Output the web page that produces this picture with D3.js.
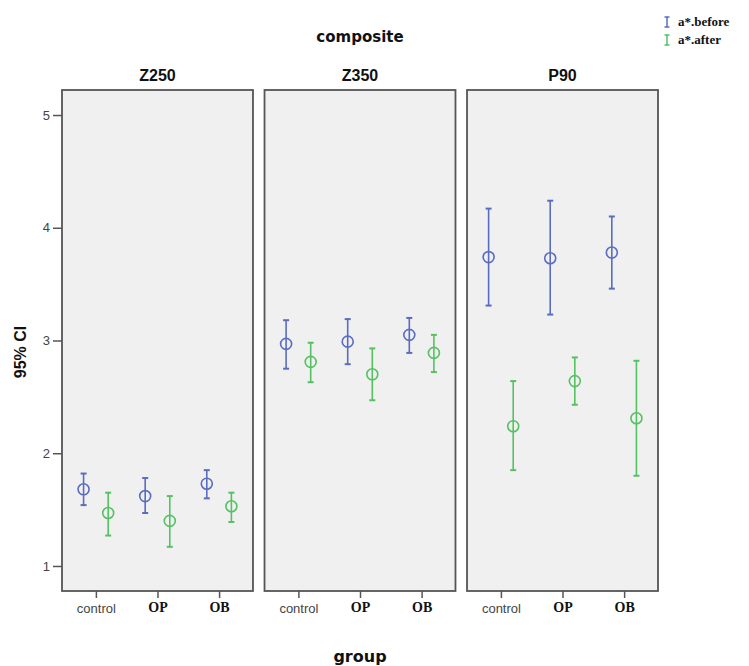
<!DOCTYPE html>
<html><head><meta charset="utf-8">
<script src="https://cdn.jsdelivr.net/npm/d3@7"></script>
<style>body{margin:0;background:#fff}svg{display:block}</style>
</head><body>
<svg id="c" width="749" height="666"></svg>
<script>
const facets = ["Z250", "Z350", "P90"];
const groups = ["control", "OP", "OB"];
const series = ["a*.before", "a*.after"];
const yTicks = [1, 2, 3, 4, 5];
// mean, lower, upper per facet, per group
const beforeMean  = [[1.68, 1.62, 1.73], [2.97, 2.99, 3.05], [3.74, 3.73, 3.78]];
const beforeLower = [[1.54, 1.47, 1.60], [2.75, 2.79, 2.89], [3.31, 3.23, 3.46]];
const beforeUpper = [[1.82, 1.78, 1.85], [3.18, 3.19, 3.20], [4.17, 4.24, 4.10]];
const afterMean   = [[1.47, 1.40, 1.53], [2.81, 2.70, 2.89], [2.24, 2.64, 2.31]];
const afterLower  = [[1.27, 1.17, 1.39], [2.63, 2.47, 2.72], [1.85, 2.43, 1.80]];
const afterUpper  = [[1.65, 1.62, 1.65], [2.98, 2.93, 3.05], [2.64, 2.85, 2.82]];

const colors = {"a*.before": "#5a6cc0", "a*.after": "#55c163"};
const rows = [];
facets.forEach((f, i) => groups.forEach((g, j) => {
  rows.push({facet: f, group: g, series: "a*.before", m: beforeMean[i][j], lo: beforeLower[i][j], hi: beforeUpper[i][j]});
  rows.push({facet: f, group: g, series: "a*.after", m: afterMean[i][j], lo: afterLower[i][j], hi: afterUpper[i][j]});
}));

const svg = d3.select("#c");
const plotTop = 90, plotBottom = 591;
const y = d3.scaleLinear().domain([0.778, 5.222]).range([plotBottom, plotTop]);
const fx = d3.scaleBand().domain(facets).range([62, 658]).paddingInner(0.057);
const gx = d3.scalePoint().domain(groups).range([0, fx.bandwidth()]).padding(0.55);
const sx = d3.scalePoint().domain(series).range([-12.3, 12.3]);

// titles
svg.append("text").attr("x", 360).attr("y", 42).attr("text-anchor", "middle")
  .attr("font-family", "DejaVu Sans, Verdana, sans-serif").attr("font-weight", "bold").attr("font-size", 15)
  .attr("fill", "#111").text("composite");
svg.append("text").attr("x", 360).attr("y", 662).attr("text-anchor", "middle")
  .attr("font-family", "DejaVu Sans, Verdana, sans-serif").attr("font-weight", "bold").attr("font-size", 16)
  .attr("fill", "#111").text("group");
svg.append("text").attr("transform", "translate(26,352) rotate(-90)").attr("text-anchor", "middle")
  .attr("font-family", "Liberation Sans, Arial, sans-serif").attr("font-weight", "bold").attr("font-size", 16)
  .attr("fill", "#111").text("95% CI");

// y axis
const yAxis = d3.axisLeft(y).tickValues(yTicks).tickSize(9).tickPadding(3).tickFormat(d3.format("d"));
const ya = svg.append("g").attr("transform", "translate(62,0)").call(yAxis);
ya.select(".domain").remove();
ya.selectAll(".tick line").attr("stroke", "#555").attr("stroke-width", 1.5);
ya.selectAll(".tick text").attr("font-family", "Liberation Sans, Arial, sans-serif").attr("font-size", 13).attr("fill", "#444");

facets.forEach(f => {
  const g = svg.append("g").attr("transform", `translate(${fx(f)},0)`);
  g.append("rect").attr("x", 0).attr("y", plotTop).attr("width", fx.bandwidth()).attr("height", plotBottom - plotTop)
    .attr("fill", "#f0f0f0").attr("stroke", "#555").attr("stroke-width", 1.8);
  g.append("text").attr("x", fx.bandwidth() / 2).attr("y", 81).attr("text-anchor", "middle")
    .attr("font-family", "Liberation Sans, Arial, sans-serif").attr("font-weight", "bold").attr("font-size", 16)
    .attr("fill", "#111").text(f);
  const xAxis = d3.axisBottom(gx).tickSize(7).tickPadding(6);
  const xa = g.append("g").attr("transform", `translate(0,${plotBottom})`).call(xAxis);
  xa.select(".domain").remove();
  xa.selectAll(".tick line").attr("stroke", "#555").attr("stroke-width", 1.5);
  xa.selectAll(".tick text").each(function(d) {
    const t = d3.select(this);
    if (d === "control") {
      t.attr("font-family", "Liberation Sans, Arial, sans-serif").attr("font-size", 13).attr("fill", "#444");
    } else {
      t.attr("font-family", "Liberation Serif, Times New Roman, serif").attr("font-weight", "bold").attr("font-size", 14).attr("fill", "#111").attr("dy", "0.55em");
    }
  });

  const pts = g.selectAll(".pt").data(rows.filter(r => r.facet === f)).join("g")
    .attr("transform", r => `translate(${gx(r.group) + sx(r.series)},0)`)
    .attr("stroke", r => colors[r.series]).attr("stroke-width", 1.6).attr("fill", "none");
  pts.append("line").attr("x1", 0).attr("x2", 0).attr("y1", r => y(r.lo)).attr("y2", r => y(r.hi));
  pts.append("line").attr("x1", -3).attr("x2", 3).attr("y1", r => y(r.lo)).attr("y2", r => y(r.lo)).attr("stroke-width", 2);
  pts.append("line").attr("x1", -3).attr("x2", 3).attr("y1", r => y(r.hi)).attr("y2", r => y(r.hi)).attr("stroke-width", 2);
  pts.append("circle").attr("cx", 0).attr("cy", r => y(r.m)).attr("r", 5.5);
});

// legend
const lg = svg.append("g");
series.forEach((s, i) => {
  const yy = 22 + i * 18;
  const c = colors[s];
  lg.append("line").attr("x1", 667).attr("x2", 667).attr("y1", yy - 5).attr("y2", yy + 5).attr("stroke", c).attr("stroke-width", 1.5);
  lg.append("line").attr("x1", 664.5).attr("x2", 669.5).attr("y1", yy - 5).attr("y2", yy - 5).attr("stroke", c).attr("stroke-width", 1.5);
  lg.append("line").attr("x1", 664.5).attr("x2", 669.5).attr("y1", yy + 5).attr("y2", yy + 5).attr("stroke", c).attr("stroke-width", 1.5);
  lg.append("text").attr("x", 678).attr("y", yy + 4).attr("font-family", "Liberation Serif, Times New Roman, serif")
    .attr("font-weight", "bold").attr("font-size", 13).attr("fill", "#111").text(s);
});
</script>
</body></html>
